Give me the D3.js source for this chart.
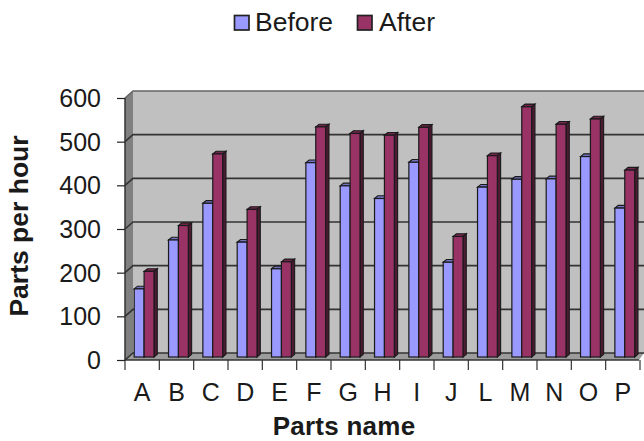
<!DOCTYPE html>
<html><head><meta charset="utf-8">
<script src="https://cdn.jsdelivr.net/npm/d3@7"></script>
<style>html,body{margin:0;padding:0;background:#fff;overflow:hidden}text{font-family:"Liberation Sans",Arial,sans-serif;fill:#1a1a1a}</style>
</head><body><svg id="c" width="644" height="441"></svg>
<script>
const categories=["A","B","C","D","E","F","G","H","I","J","L","M","N","O","P"];
const before=[156,268,352,263,202,445,392,363,446,217,389,407,408,459,341];
const after=[196,301,465,338,218,527,512,508,526,276,461,573,533,545,428];
const yTicks=[0,100,200,300,400,500,600];
const seriesNames=["Before","After"];
const seriesColors=["#9999ff","#993366"];
const sideColors=["#4d4d80","#4d1a33"];
const topColors=["#7373bf","#73264d"];
const svg=d3.select("#c");
const x0=125,x1=640,yB=360,yT=98,dx=8,dy=7,bdx=3.3,bdy=2.7;
const x=d3.scaleBand().domain(categories).range([x0,x1]);
const y=d3.scaleLinear().domain([0,600]).range([yB,yT]);
const line="#333";
// walls
svg.append("polygon").attr("points",[[x0+dx,yT-dy],[644,yT-dy],[644,yB-dy],[x0+dx,yB-dy]].join(" ")).attr("fill","#c0c0c0");
svg.append("polygon").attr("points",[[x0,yT],[x0+dx,yT-dy],[x0+dx,yB-dy],[x0,yB]].join(" ")).attr("fill","#808080");
svg.append("polygon").attr("points",[[x0,yB],[x0+dx,yB-dy],[644,yB-dy],[644,yB-dy],[x1-1,yB]].join(" ")).attr("fill","#9c9c9c");
// gridlines
yTicks.forEach(t=>{
  svg.append("path").attr("d",`M${x0},${y(t)}L${x0+dx},${y(t)-dy}L644,${y(t)-dy}`).attr("fill","none").attr("stroke",t===600?"#666":line).attr("stroke-width",1.6);
});
svg.append("line").attr("x1",x0).attr("x2",x0).attr("y1",yT).attr("y2",yB).attr("stroke",line).attr("stroke-width",1.5);
svg.append("line").attr("x1",x0).attr("x2",x1-1).attr("y1",yB).attr("y2",yB).attr("stroke",line).attr("stroke-width",1.5);
// bars
const bw=9.9,pad=9.2;
const bh=d3.scaleLinear().domain([0,600]).range([0,yB-yT]);
[before,after].forEach((vals,s)=>{
  const g=svg.append("g");
  vals.forEach((v,i)=>{
    const l=x(categories[i])+pad+s*bw, r=l+bw, b=yB-3, t=b-bh(v);
    g.append("polygon").attr("points",[[l,t],[l+bdx,t-bdy],[r+bdx,t-bdy],[r,t]].join(" ")).attr("fill",topColors[s]).attr("stroke","#1a1a1a").attr("stroke-width",1.1);
    g.append("polygon").attr("points",[[r,t],[r+bdx,t-bdy],[r+bdx,b-bdy],[r,b]].join(" ")).attr("fill",sideColors[s]).attr("stroke","#1a1a1a").attr("stroke-width",1.1);
    g.append("rect").attr("x",l).attr("y",t).attr("width",bw).attr("height",b-t).attr("fill",seriesColors[s]).attr("stroke","#1a1a1a").attr("stroke-width",1.2);
  });
});
// axes
const ya=d3.axisLeft(y).tickValues(yTicks).tickSize(8).tickPadding(16);
const gy=svg.append("g").attr("transform",`translate(${x0},0)`).call(ya);
gy.select(".domain").remove();
gy.selectAll("line").attr("stroke","#222").attr("stroke-width",1.2);
gy.selectAll("text").attr("font-size",25).attr("dy","0.34em");
d3.range(categories.length+1).forEach(i=>{
  const px=x0+i*x.step();
  svg.append("line").attr("x1",px).attr("x2",px).attr("y1",yB).attr("y2",yB+10).attr("stroke","#333").attr("stroke-width",1.2);
});
categories.forEach(c=>{
  svg.append("text").attr("x",x(c)+x.bandwidth()/2).attr("y",400.5).attr("text-anchor","middle").attr("font-size",25).text(c);
});
svg.append("text").attr("x",344).attr("y",435).attr("text-anchor","middle").attr("font-size",26).attr("letter-spacing",0.25).attr("font-weight","bold").text("Parts name");
svg.append("text").attr("transform","translate(28,226) rotate(-90)").attr("text-anchor","middle").attr("font-size",26.5).attr("font-weight","bold").text("Parts per hour");
// legend
const legX=[234.5,357.5];
const legT=[255,379];
seriesNames.forEach((n,i)=>{
  svg.append("rect").attr("x",legX[i]).attr("y",15.5).attr("width",14.5).attr("height",14.5).attr("fill",seriesColors[i]).attr("stroke","#222").attr("stroke-width",1.7);
  svg.append("text").attr("x",legT[i]).attr("y",30.5).attr("font-size",26.5).text(n);
});
</script></body></html>
